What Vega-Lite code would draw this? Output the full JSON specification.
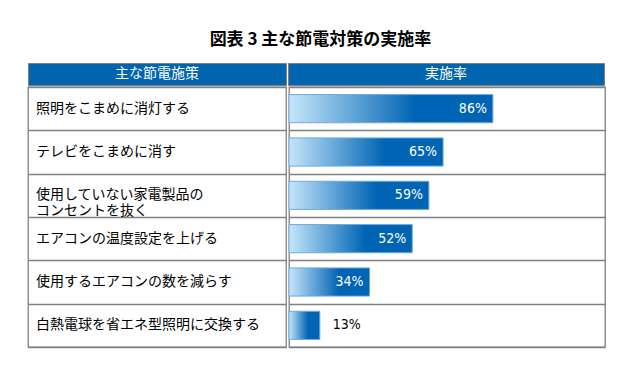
{
  "$schema": "https://vega.github.io/schema/vega-lite/v6.json",
  "background": "white",
  "padding": {"left": 27, "right": 27, "top": 30, "bottom": 19},
  "title": {"text": "図表 3  主な節電対策の実施率", "anchor": "middle", "font": "Noto Sans CJK JP", "fontSize": 17, "fontWeight": "bold", "color": "#000000", "offset": 14, "dx": 4},
  "datasets": {
    "rows": [
      {"measure": "照明をこまめに消灯する", "rate": 86, "pct": "86%"},
      {"measure": "テレビをこまめに消す", "rate": 65, "pct": "65%"},
      {"measure": "使用していない家電製品の\nコンセントを抜く", "rate": 59, "pct": "59%"},
      {"measure": "エアコンの温度設定を上げる", "rate": 52, "pct": "52%"},
      {"measure": "使用するエアコンの数を減らす", "rate": 34, "pct": "34%"},
      {"measure": "白熱電球を省エネ型照明に交換する", "rate": 13, "pct": "13%"}
    ],
    "hdr": [{"a": "主な節電施策", "b": "実施率"}]
  },
  "config": {"view": {"stroke": "#808080", "strokeWidth": 1.3}, "concat": {"spacing": 0}},
  "spacing": 0,
  "vconcat": [
    {
      "spacing": 0,
      "hconcat": [
        {
          "data": {"name": "hdr"}, "width": 258, "height": 22,
          "view": {"fill": "#0064AF", "stroke": "#808080"},
          "mark": {"type": "text", "color": "white", "font": "Noto Sans CJK JP", "fontSize": 14},
          "encoding": {"text": {"field": "a"}}
        },
        {
          "data": {"name": "hdr"}, "width": 316, "height": 22,
          "view": {"fill": "#0064AF", "stroke": "#808080"},
          "mark": {"type": "text", "color": "white", "font": "Noto Sans CJK JP", "fontSize": 14},
          "encoding": {"text": {"field": "b"}}
        }
      ]
    },
    {
      "spacing": 0,
      "hconcat": [
        {
          "data": {"name": "rows"}, "width": 258, "height": 260,
          "mark": {"type": "text", "align": "left", "dx": 8, "lineBreak": "\n", "lineHeight": 16, "font": "Noto Sans CJK JP", "fontSize": 14, "color": "#000000"},
          "encoding": {
            "x": {"value": 0},
            "y": {"field": "measure", "type": "nominal", "sort": null, "scale": {"paddingInner": 0, "paddingOuter": 0},
                  "axis": {"title": null, "labels": false, "ticks": false, "domain": false, "grid": true, "tickBand": "extent", "gridColor": "#808080", "gridWidth": 1.3, "gridOpacity": 1}},
            "text": {"field": "measure"}
          }
        },
        {
          "data": {"name": "rows"}, "width": 316, "height": 260,
          "encoding": {
            "y": {"field": "measure", "type": "nominal", "sort": null, "scale": {"paddingInner": 0, "paddingOuter": 0},
                  "axis": {"title": null, "labels": false, "ticks": false, "domain": false, "grid": true, "tickBand": "extent", "gridColor": "#808080", "gridWidth": 1.3, "gridOpacity": 1}},
            "x": {"field": "rate", "type": "quantitative", "scale": {"domain": [0, 133.3], "nice": false}, "axis": null}
          },
          "layer": [
            {
              "mark": {"type": "bar", "height": {"band": 0.65}, "stroke": "#6FA8DC", "strokeWidth": 1,
                       "color": {"gradient": "linear", "x1": 0, "y1": 0, "x2": 1, "y2": 0,
                                 "stops": [{"offset": 0, "color": "#C6E6FB"}, {"offset": 0.62, "color": "#0064B4"}, {"offset": 1, "color": "#0064B4"}]}}
            },
            {
              "transform": [{"filter": "datum.rate >= 20"}],
              "mark": {"type": "text", "align": "right", "dx": -6, "color": "white", "font": "DejaVu Sans Condensed, Liberation Sans, sans-serif", "fontSize": 14},
              "encoding": {"text": {"field": "pct"}}
            },
            {
              "transform": [{"filter": "datum.rate < 20"}],
              "mark": {"type": "text", "align": "left", "dx": 13, "color": "#000000", "font": "DejaVu Sans Condensed, Liberation Sans, sans-serif", "fontSize": 14},
              "encoding": {"text": {"field": "pct"}}
            }
          ]
        }
      ]
    }
  ]
}
